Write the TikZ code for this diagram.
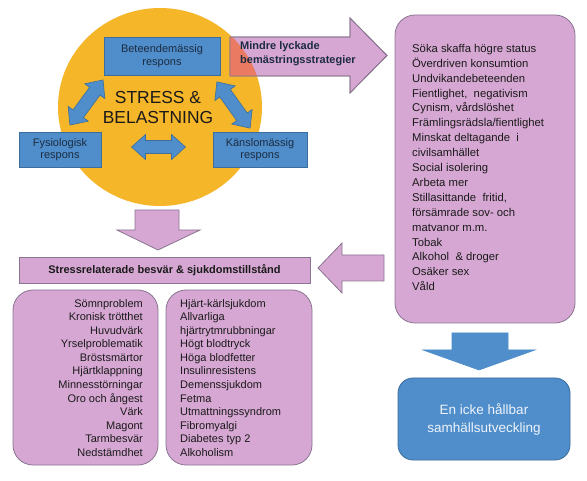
\documentclass[tikz,border=0pt]{standalone}
\usepackage{fontspec}
\setmainfont{Liberation Sans}
\usetikzlibrary{shapes.geometric}
\definecolor{pinkf}{HTML}{D6A7D3}
\definecolor{pinkd}{HTML}{8A7590}
\definecolor{bluef}{HTML}{4F8ECB}
\definecolor{blued}{HTML}{3C6D9C}
\definecolor{orangef}{HTML}{F5B62A}
\definecolor{redf}{HTML}{EA7B62}
\definecolor{navy}{HTML}{1C2B40}
\definecolor{txtc}{HTML}{1A1A1A}
\definecolor{lightt}{HTML}{EEF3FA}
\newcommand\mydarr[3]{%
  \begin{scope}[shift={#1},rotate=#2]
    \filldraw[bluearrow] (-#3/2,0) -- (-#3/2+14,-12.5) -- (-#3/2+14,-6.5) -- (#3/2-14,-6.5) -- (#3/2-14,-12.5) -- (#3/2,0) -- (#3/2-14,12.5) -- (#3/2-14,6.5) -- (-#3/2+14,6.5) -- (-#3/2+14,12.5) -- cycle;
  \end{scope}}
\tikzset{
  bluebox/.style={draw=blued, fill=bluef, line width=0.8pt, inner sep=0pt, text=navy,
    font=\fontsize{11}{12.5}\selectfont, align=center},
  bluearrow/.style={fill=bluef, draw=blued, line width=0.6pt},
  pinkshape/.style={fill=pinkf, draw=pinkd, line width=0.8pt},
  pinkbox/.style={pinkshape, rounded corners=20pt, inner sep=0pt},
  listtext/.style={inner sep=0pt, text=txtc, font=\fontsize{11}{13.55}\selectfont},
}
\begin{document}
\begin{tikzpicture}[x=1pt,y=-1pt]
\useasboundingbox (0,0) rectangle (587,481);
\fill[white] (0,0) rectangle (587,481);

% central circle
\node[ellipse, fill=orangef, minimum width=204pt, minimum height=198pt, inner sep=0pt] (circ) at (160,107) {};

% arrow "Mindre lyckade ..."
\filldraw[pinkshape] (230,37) -- (350,37) -- (350,18) -- (387,55.5) -- (350,93) -- (350,76) -- (230,76) -- cycle;
\begin{scope}
  \clip (160,107) ellipse [x radius=102, y radius=99];
  \fill[redf] (230,37) rectangle (350,76);
\end{scope}
\draw[pinkd, line width=0.8pt] (230,37) -- (350,37) -- (350,18) -- (387,55.5) -- (350,93) -- (350,76) -- (230,76) -- cycle;
\node[anchor=north west, inner sep=0pt, align=left, text=navy, font=\bfseries\fontsize{11}{14}\selectfont] (mindre) at (240,41) {Mindre lyckade\\bemästringsstrategier};

% blue response boxes
\node[bluebox, minimum width=116pt, minimum height=38pt] (beh) at (162,56) {Beteendemässig\\respons};
\node[bluebox, minimum width=82pt, minimum height=35pt] (fys) at (60,149.5) {Fysiologisk\\respons};
\node[bluebox, minimum width=94pt, minimum height=35pt] (kansl) at (260,149.5) {Känslomässig\\respons};

\node[inner sep=0pt, align=center, text=txtc, font=\fontsize{17.4}{20.5}\selectfont] (stress) at (158,107.5) {STRESS \&\\BELASTNING};

% double arrows
\mydarr{(86.5,102.5)}{53.7}{56}
\mydarr{(233.5,105)}{-54.3}{57}
\mydarr{(158.5,147)}{0}{54}

% down arrow from circle
\filldraw[pinkshape] (135,210) -- (179,210) -- (179,230) -- (200,230) -- (158,250) -- (117,230) -- (135,230) -- cycle;

% bar
\node[pinkshape, minimum width=291pt, minimum height=26pt, inner sep=0pt, text=txtc, font=\bfseries\fontsize{11}{13}\selectfont] (bar) at (164.5,270) {Stressrelaterade besvär \& sjukdomstillstånd};

% left arrow
\filldraw[pinkshape] (384,255) -- (342,255) -- (342,243) -- (318,268) -- (342,293) -- (342,281) -- (384,281) -- cycle;

% right list box
\node[pinkbox, minimum width=180pt, minimum height=308pt] (strat) at (485,169) {};
\node[listtext, anchor=north west, align=left, font=\fontsize{11.3}{14.9}\selectfont] (strattxt) at (412,44) {Söka skaffa högre status\\Överdriven konsumtion\\Undvikandebeteenden\\Fientlighet, \ negativism\\Cynism, vårdslöshet\\Främlingsrädsla/fientlighet\\Minskat deltagande \ i\\civilsamhället\\Social isolering\\Arbeta mer\\Stillasittande \ fritid,\\försämrade sov- och\\matvanor m.m.\\Tobak\\Alkohol \ \& droger\\Osäker sex\\Våld};

% lower boxes
\node[pinkbox, minimum width=145pt, minimum height=175pt] (symp) at (85.5,377.5) {};
\node[listtext, anchor=north east, align=right] (symptxt) at (143,299) {Sömnproblem\\Kronisk trötthet\\Huvudvärk\\Yrselproblematik\\Bröstsmärtor\\Hjärtklappning\\Minnesstörningar\\Oro och ångest\\Värk\\Magont\\Tarmbesvär\\Nedstämdhet};
\node[pinkbox, minimum width=146pt, minimum height=175pt] (dis) at (239,377.5) {};
\node[listtext, anchor=north west, align=left] (distxt) at (180,299) {Hjärt-kärlsjukdom\\Allvarliga\\hjärtrytmrubbningar\\Högt blodtryck\\Höga blodfetter\\Insulinresistens\\Demenssjukdom\\Fetma\\Utmattningssyndrom\\Fibromyalgi\\Diabetes typ 2\\Alkoholism};

% blue down arrow
\filldraw[fill=bluef, draw=bluef, line width=0.6pt] (452,333) -- (508,333) -- (508,350) -- (535,350) -- (479,370) -- (423,350) -- (452,350) -- cycle;

% final box
\node[fill=bluef, draw=blued, line width=0.8pt, rounded corners=15pt, minimum width=172pt, minimum height=82pt, inner sep=0pt, align=center, text=lightt, font=\fontsize{13.5}{18}\selectfont] (final) at (484,419) {En icke hållbar\\samhällsutveckling};
\end{tikzpicture}
\end{document}
